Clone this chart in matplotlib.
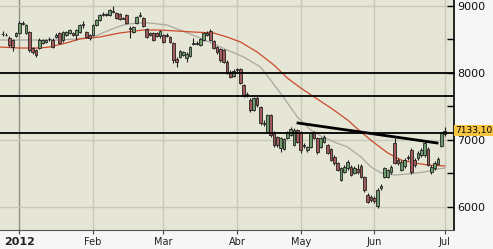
import numpy as np
import matplotlib
matplotlib.use('Agg')
import matplotlib.pyplot as plt
from matplotlib.ticker import FixedLocator, MultipleLocator

# daily candles, index 0 = first session of 2012 (Dec 2011 sessions are negative)
bar_idx = list(range(-5, 128))
opens = [8570, 8565, 8516, 8486, 8546,
         8590, 8725, 8590, 8605, 8367, 8337, 8367, 8442, 8457, 8494, 8486, 8531, 8590, 8486, 8561, 8590, 8590, 8561, 8605, 8725, 8605, 8561,
         8561, 8710, 8784, 8859, 8873, 8859, 8903, 8888, 8873, 8814, 8859, 8665, 8605, 8739, 8844, 8814, 8650, 8590, 8590, 8590, 8546,
         8561, 8561, 8531, 8442, 8203, 8233, 8263, 8218, 8248, 8427, 8442, 8412, 8486, 8561, 8620, 8471, 8382, 8352, 8337, 8159, 8010, 7950,
         8055, 8055, 7816, 7682, 7593, 7444, 7623, 7489, 7250, 7116, 7370, 7116, 7042, 6878, 6863, 7027, 7072, 6923, 7146,
         7102, 6923, 6848, 6893, 7116, 7027, 6893, 6968, 6923, 6863, 6744, 6655, 6402, 6521, 6580, 6595, 6506, 6566, 6610, 6446, 6178, 6149,
         6134, 6015, 6283, 6446, 6446, 6521, 6953, 6700, 6551, 6610, 6744, 6848, 6700, 6729, 6774, 6774, 6863, 6521, 6580, 6640, 6908,
         7087]
highs = [8620, 8590, 8546, 8501, 8605,
         8769, 8769, 8725, 8620, 8382, 8352, 8516, 8501, 8501, 8531, 8516, 8590, 8605, 8620, 8620, 8650, 8605, 8650, 8725, 8769, 8620, 8576,
         8725, 8799, 8873, 8903, 8888, 8948, 8993, 8903, 8888, 8829, 8873, 8695, 8695, 8844, 8903, 8829, 8665, 8605, 8605, 8605, 8635,
         8576, 8590, 8546, 8457, 8233, 8337, 8323, 8308, 8397, 8516, 8471, 8516, 8605, 8620, 8650, 8486, 8397, 8367, 8352, 8189, 8040, 8055,
         8069, 8069, 7831, 7712, 7623, 7638, 7653, 7504, 7295, 7384, 7384, 7131, 7057, 7042, 7027, 7131, 7191, 7176, 7161,
         7131, 6953, 6908, 7116, 7131, 7042, 7042, 7072, 6938, 6878, 6774, 6670, 6595, 6625, 6700, 6625, 6610, 6640, 6640, 6461, 6208, 6178,
         6164, 6283, 6342, 6595, 6566, 6625, 7027, 6729, 6700, 6729, 6774, 6878, 6729, 6834, 6878, 6982, 6893, 6625, 6685, 6744, 7116,
         7191]
lows = [8546, 8540, 8382, 8322, 8531,
        8576, 8710, 8576, 8308, 8278, 8233, 8352, 8427, 8442, 8471, 8367, 8516, 8427, 8457, 8546, 8576, 8546, 8486, 8590, 8665, 8516, 8486,
        8546, 8695, 8769, 8844, 8844, 8844, 8888, 8799, 8784, 8799, 8725, 8516, 8590, 8725, 8829, 8680, 8516, 8546, 8471, 8531, 8516,
        8442, 8531, 8442, 8144, 8084, 8218, 8248, 8159, 8233, 8412, 8412, 8397, 8471, 8546, 8471, 8352, 8278, 8159, 8144, 7980, 7920, 7935,
        8010, 7831, 7638, 7638, 7414, 7429, 7489, 7221, 7206, 7102, 7042, 6893, 6893, 6819, 6848, 7012, 7057, 6908, 6953,
        6804, 6878, 6819, 6878, 7012, 6789, 6878, 6953, 6789, 6685, 6625, 6536, 6387, 6506, 6551, 6461, 6491, 6491, 6432, 6223, 6059, 6074,
        6059, 5985, 6253, 6432, 6432, 6491, 6640, 6625, 6536, 6580, 6700, 6491, 6595, 6700, 6744, 6744, 6610, 6491, 6551, 6625, 6893,
        7057]
closes = [8580, 8556, 8412, 8382, 8590,
          8739, 8739, 8710, 8337, 8308, 8263, 8486, 8486, 8486, 8501, 8382, 8561, 8442, 8605, 8605, 8635, 8561, 8635, 8710, 8710, 8531, 8516,
          8710, 8784, 8859, 8873, 8859, 8933, 8918, 8814, 8799, 8806, 8739, 8650, 8680, 8829, 8859, 8695, 8531, 8561, 8486, 8546, 8620,
          8457, 8546, 8457, 8189, 8159, 8323, 8308, 8278, 8382, 8442, 8427, 8501, 8590, 8590, 8486, 8367, 8308, 8189, 8159, 7995, 7935, 8025,
          8040, 7846, 7653, 7667, 7444, 7623, 7519, 7250, 7236, 7370, 7072, 6923, 6923, 7027, 7012, 7116, 7161, 7146, 6968,
          6848, 6908, 6893, 7102, 7027, 6819, 7027, 7042, 6804, 6700, 6655, 6551, 6580, 6595, 6670, 6476, 6580, 6521, 6446, 6253, 6074, 6104,
          6089, 6253, 6312, 6580, 6551, 6595, 6655, 6655, 6670, 6700, 6729, 6521, 6625, 6804, 6848, 6953, 6625, 6595, 6655, 6714, 7102,
          7133]

# moving averages
red_ma_idx = [-6, 0, 6, 9, 14, 18, 24, 30, 37, 42, 52, 58, 62, 66, 71, 76, 80, 84, 88, 93, 98, 102, 106, 110, 114, 118, 122, 127]
red_ma_val = [8382, 8367, 8367, 8382, 8442, 8501, 8531, 8591, 8635, 8635, 8605, 8591, 8531, 8457, 8308, 8114, 7920, 7772,
              7638, 7474, 7295, 7116, 6953, 6804, 6699, 6655, 6625, 6610]
gray_ma_idx = [-6, 3, 12, 17, 22, 27, 31, 35, 39, 44, 48, 54, 60, 67, 72, 75, 79, 83, 87, 90, 94, 98, 102, 105, 108, 112, 116,
               121, 125, 127]
gray_ma_val = [8486, 8486, 8486, 8501, 8531, 8635, 8710, 8739, 8739, 8710, 8635, 8516, 8382, 8233, 8084, 7891, 7623, 7340,
               7146, 7057, 6967, 6893, 6744, 6595, 6506, 6476, 6491, 6521, 6565, 6580]

# drawn lines
levels = [8000, 7648, 7102]
trend_idx = [83.2, 124.7]
trend_val = [7250, 6953]

month_idx = [0, 22, 43, 65, 84, 106, 127]
month_lbl = ['2012', 'Feb', 'Mar', 'Abr', 'May', 'Jun', 'Jul']
last_price = '7133,10'

fig = plt.figure(figsize=(4.93, 2.49), dpi=100, facecolor='#f6f6f6')
ax = fig.add_axes([0, 19 / 249, 454 / 493, 230 / 249])
ax.set_facecolor('#e6e6d6')

# grid
for m in month_idx:
    ax.axvline(m, color='#8f8f84' if m == 0 else '#c9c9bb', lw=1, zorder=0)
for p in [9000, 8000, 7000, 6000]:
    ax.axhline(p, color='#c9c9bb', lw=1, zorder=0)

ax.plot(gray_ma_idx, gray_ma_val, color='#a8a8a0', lw=0.9, zorder=1)
ax.plot(red_ma_idx, red_ma_val, color='#cc4a2c', lw=0.9, zorder=1)

o = np.array(opens)
c = np.array(closes)
up = c >= o
ax.vlines(bar_idx, lows, highs, color='#222222', lw=0.8, zorder=2)
body_h = np.maximum(np.abs(c - o), 6)
ax.bar(bar_idx, body_h, bottom=np.minimum(o, c), width=0.8,
       color=np.where(up, '#6f9c6c', '#a55a5a'), edgecolor='#222222', linewidth=0.6, zorder=3)

for lv in levels:
    ax.axhline(lv, color='black', lw=1.3, zorder=4)
ax.plot(trend_idx, trend_val, color='black', lw=2, zorder=4)

ax.set_xlim(-5.76, 129.76)
ax.set_ylim(5657, 9082)

ax.yaxis.tick_right()
ax.yaxis.set_major_locator(FixedLocator([6000, 7000, 8000, 9000]))
ax.yaxis.set_minor_locator(MultipleLocator(500))
ax.tick_params(axis='y', which='both', direction='in', length=5, width=1, color='black',
               labelsize=8, pad=2, labelcolor='#111111')
ax.set_xticks(month_idx)
ax.set_xticklabels(month_lbl)
ax.tick_params(axis='x', direction='out', length=3, color='#444444', labelsize=7, pad=2, labelcolor='#222222')
ax.get_xticklabels()[0].set_fontweight('bold')
ax.get_xticklabels()[0].set_fontsize(8)

for s in ['top', 'left']:
    ax.spines[s].set_visible(False)
ax.spines['right'].set_color('black')
ax.spines['right'].set_linewidth(1.2)
ax.spines['bottom'].set_color('#555555')

ax.text(1.002, closes[-1], last_price, transform=ax.get_yaxis_transform(), va='center', ha='left',
        fontsize=6.5, color='black', clip_on=False,
        bbox=dict(boxstyle='square,pad=0.12', fc='#f5c542', ec='none'))

fig.savefig('out.png', dpi=100, facecolor=fig.get_facecolor())
